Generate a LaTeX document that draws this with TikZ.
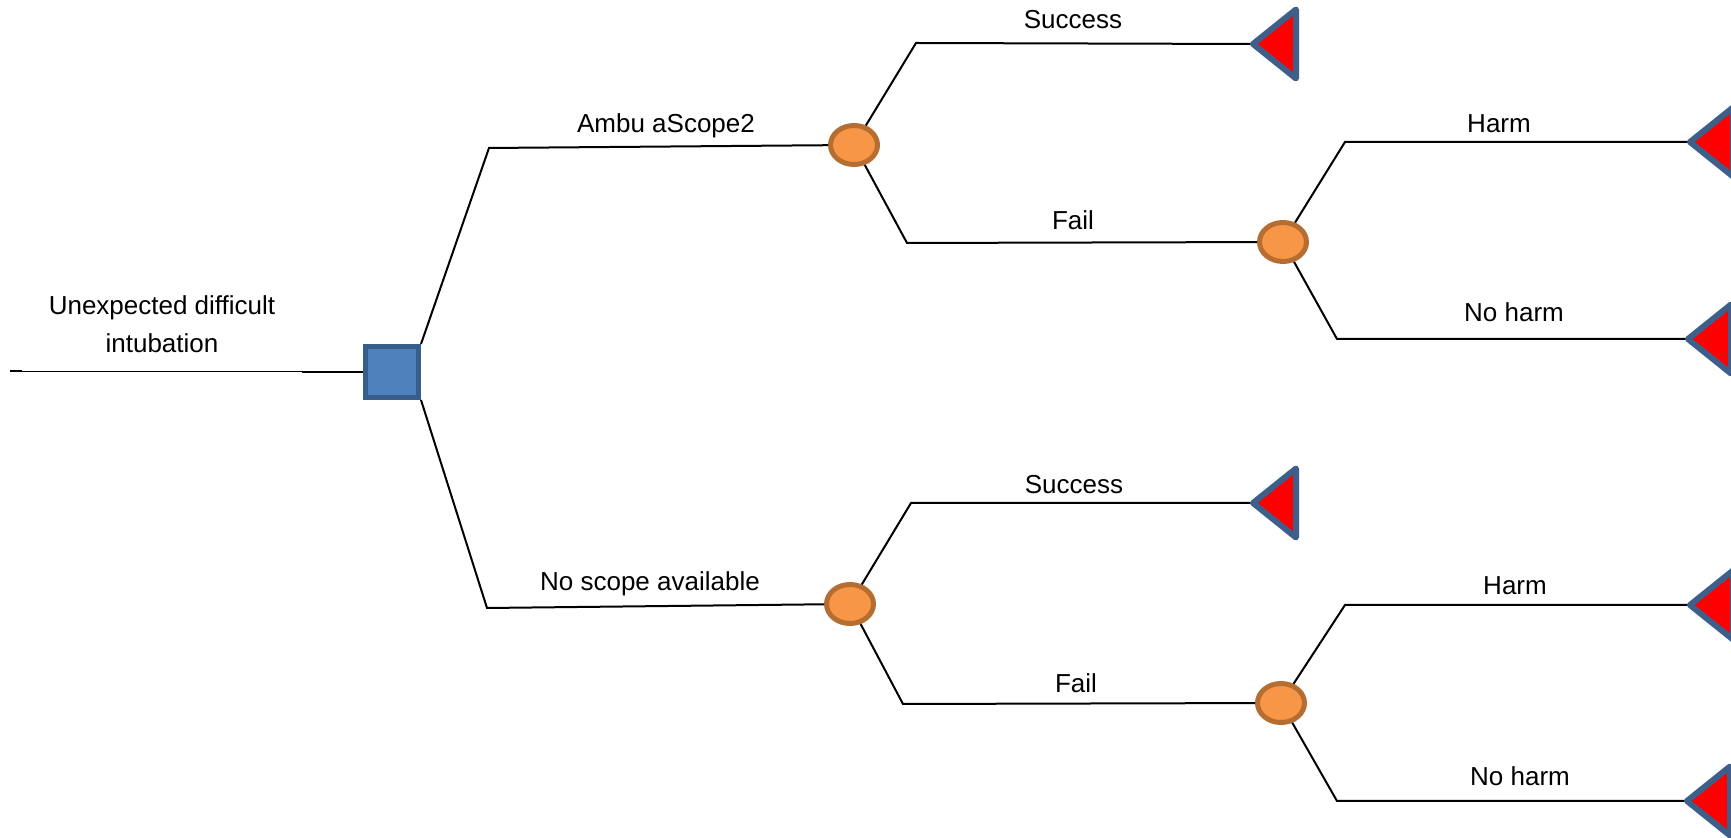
\documentclass[tikz,border=0pt]{standalone}
\usepackage{fontspec}
\setmainfont{Liberation Sans}
\usepackage{tikz}
\usetikzlibrary{positioning,calc,shapes.geometric}

\definecolor{decfill}{HTML}{4F81BD}
\definecolor{decline}{HTML}{385D8A}
\definecolor{chfill}{HTML}{F79646}
\definecolor{chline}{HTML}{B66D31}
\definecolor{endline}{HTML}{3E5F8A}

\begin{document}
\begin{tikzpicture}[x=0.5pt,y=-0.5pt,line width=1pt]
      \tikzstyle{decbox}=[rectangle,draw=decline,fill=decfill,line width=2.5pt,minimum width=26.5pt,minimum height=25.5pt,inner sep=0pt]
      \tikzstyle{chance}=[ellipse,draw=chline,fill=chfill,line width=2.5pt,minimum width=23.5pt,minimum height=19.5pt,inner sep=0pt]
      \tikzstyle{endtri}=[draw=endline,fill=red,line width=3pt,line join=round]
      \tikzstyle{lbl}=[font=\fontsize{13}{19}\selectfont,inner sep=0pt,align=center]
      \useasboundingbox (0,0) rectangle (1731,838);
      % root
      \node[decbox] (dec) at (392,372) {};
      \coordinate (r0) at (10,371);
      \coordinate (r1) at (22,371);
      \coordinate (r2) at (22,372);
      \coordinate (r3) at (302,372);
      \draw (r0) -- (r1);
      \draw[line width=0.5pt] (r2) -- (r3);
      \draw (r3) -- (dec.west);
      \node[lbl] (root) at (162,324) {Unexpected difficult\\intubation};
      % chance nodes
      \node[chance] (amb) at (854,145) {};
      \node[chance] (ambfail) at (1283,242) {};
      \node[chance] (nos) at (850,604) {};
      \node[chance] (nosfail) at (1281,703) {};
      % bend points
      \coordinate (a1) at (489,148);
      \coordinate (a2) at (487,608);
      \coordinate (s1) at (916,43);
      \coordinate (f1) at (907,243);
      \coordinate (s2) at (911,503);
      \coordinate (f2) at (903,704);
      \coordinate (h1) at (1345,142);
      \coordinate (n1) at (1337,339);
      \coordinate (h2) at (1345,605);
      \coordinate (n2) at (1337,801);
      % end points
      \coordinate (t1) at (1253,44);
      \coordinate (t2) at (1690,142);
      \coordinate (t3) at (1688,339);
      \coordinate (t4) at (1253,503);
      \coordinate (t5) at (1690,605);
      \coordinate (t6) at (1687,801);
      % branches
      \draw (dec.north east) -- (a1) -- (amb);
      \draw (dec.south east) -- (a2) -- (nos);
      \draw (amb) -- (s1) -- (t1);
      \draw (amb) -- (f1) -- (ambfail);
      \draw (ambfail) -- (h1) -- (t2);
      \draw (ambfail) -- (n1) -- (t3);
      \draw (nos) -- (s2) -- (t4);
      \draw (nos) -- (f2) -- (nosfail);
      \draw (nosfail) -- (h2) -- (t5);
      \draw (nosfail) -- (n2) -- (t6);
      % terminal triangles
      \foreach \t in {t1,t2,t3,t4,t5,t6}
        \draw[endtri] (\t) -- ++(43,-34.5) -- ++(0,69) -- cycle;
      % labels
      \node[lbl] (lamb) at (666,126) {Ambu aScope2};
      \node[lbl] (lnos) at (650,584) {No scope available};
      \node[lbl] (ls1) at (1073,20) {Success};
      \node[lbl] (lf1) at (1073,220) {Fail};
      \node[lbl] (lh1) at (1499,124) {Harm};
      \node[lbl] (ln1) at (1514,312) {No harm};
      \node[lbl] (ls2) at (1074,485) {Success};
      \node[lbl] (lf2) at (1076,683) {Fail};
      \node[lbl] (lh2) at (1515,586) {Harm};
      \node[lbl] (ln2) at (1520,776) {No harm};
    \end{tikzpicture}
\end{document}
